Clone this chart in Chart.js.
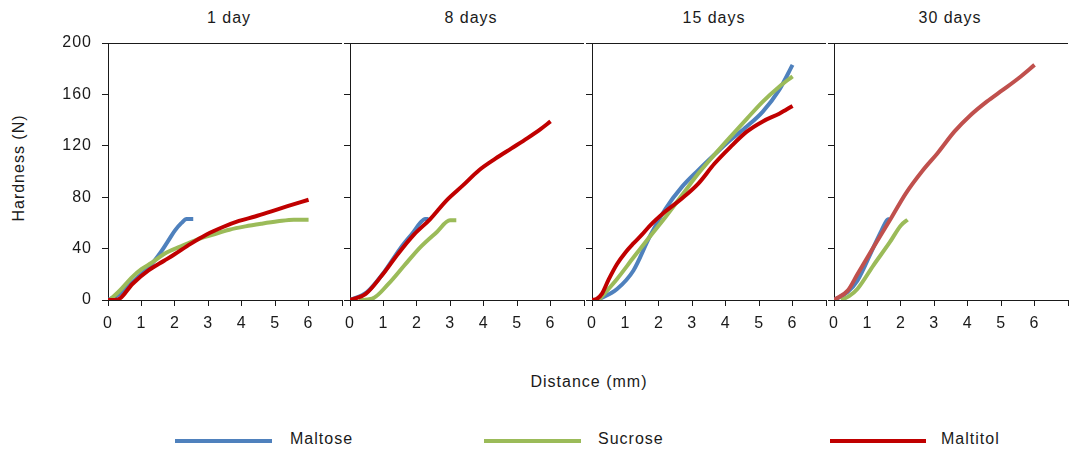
<!DOCTYPE html>
<html>
<head>
<meta charset="utf-8">
<title>Hardness vs distance</title>
<script src="https://cdn.jsdelivr.net/npm/chart.js@4.4.1/dist/chart.umd.min.js"></script>
<style>
  html, body { margin: 0; padding: 0; background: #fff; overflow: hidden; }
  #wrap {
    position: relative; width: 1070px; height: 452px; overflow: hidden;
    font-family: "Liberation Sans", Arial, sans-serif; font-size: 16px;
    color: #1a1a1a; letter-spacing: 1px;
  }
  #wrap canvas { position: absolute; top: 0; }
  .txt { position: absolute; line-height: 20px; white-space: nowrap; }
  .key { position: absolute; height: 4px; }
</style>
</head>
<body>
<div id="wrap">
  <div class="txt" style="left:19px; top:168px; transform:translate(-50%,-50%) rotate(-90deg);">Hardness (N)</div>
  <div class="txt" style="left:589px; top:372px; transform:translateX(-50%);">Distance (mm)</div>
  <div id="legend"></div>
</div>
<script>
// panel titles, series and ticks
const panelTitles = ["1 day", "8 days", "15 days", "30 days"];
const seriesNames = ["Maltose", "Sucrose", "Maltitol"];
const yTicks = [0, 40, 80, 120, 160, 200];
const xTicks = [0, 1, 2, 3, 4, 5, 6];

// [distance mm, hardness N]
const maltose1 = [[0,0],[0.3,4],[0.6,11],[0.9,18],[1.2,25],[1.4,31],[1.6,38],[1.8,46],[2.0,54],[2.2,60],[2.35,63],[2.55,63]];
const sucrose1 = [[0.05,0],[0.34,7],[0.73,18],[1.0,24],[1.31,29],[1.69,36],[2.18,41.7],[2.66,47],[3.15,51],[3.63,54.7],[4.11,57.3],[4.6,59.4],[5.08,61.2],[5.56,62.5],[6.0,62.5]];
const maltitol1 = [[0,0],[0.3,0.5],[0.73,12.5],[1.21,23],[1.69,30.7],[1.98,35.4],[2.47,43.7],[2.95,51],[3.44,56.8],[3.92,61.5],[4.4,65],[4.89,69],[5.37,73],[6,78]];

const maltose8 = [[0,0],[0.5,6],[1.0,21],[1.5,40],[1.9,53],[2.1,60],[2.25,63],[2.35,63]];
const sucrose8 = [[0.27,0],[0.66,1],[1.15,12.5],[1.63,27],[2.1,41],[2.6,53],[2.99,62],[3.18,62]];
const maltitol8 = [[0,0],[0.47,4.7],[0.95,19],[1.44,36],[1.92,51],[2.4,63],[2.89,77.6],[3.37,89],[3.86,101],[4.35,110],[4.83,118],[5.31,126],[5.7,133],[6,139]];

const maltose15 = [[0.17,0],[0.75,8.6],[1.24,23],[1.72,49],[2.2,71],[2.69,88],[3.18,101],[3.66,113],[4.14,124.5],[4.63,135],[5.11,146.6],[5.6,163.5],[6,183]];
const sucrose15 = [[0.2,0],[0.75,16.4],[1.24,33],[1.72,49],[2.2,64.6],[2.69,81.5],[3.18,98.4],[3.66,113],[4.14,127],[4.63,141],[5.11,154.4],[5.6,166],[6,174]];
const maltitol15 = [[0,0],[0.15,1],[0.3,5],[0.5,16],[0.75,28],[1.0,37],[1.24,44],[1.5,51],[1.72,57.5],[2.2,69],[2.69,79],[3.18,90.6],[3.66,106],[4.14,119],[4.63,131],[5.11,139],[5.6,145],[6,151]];

const maltose30 = [[0,0],[0.4,6],[0.7,15],[1.18,41],[1.42,54],[1.6,62.5],[1.66,63]];
const sucrose30 = [[0.21,0],[0.45,3],[0.7,8.6],[1.18,27],[1.67,45],[2.0,58],[2.2,62.5]];
const maltitol30 = [[0,0],[0.41,7.3],[0.7,20],[1.18,41],[1.67,62],[2.15,83],[2.63,100],[3.12,115],[3.6,131],[4.09,144],[4.57,154.4],[5.05,163.5],[5.54,173],[6,183]];

const panels = [
  [maltose1, sucrose1, maltitol1],
  [maltose8, sucrose8, maltitol8],
  [maltose15, sucrose15, maltitol15],
  [maltose30, sucrose30, maltitol30]
];

const colors = ["#4F81BD", "#9BBB59", "#C00000"];
const lateRed = "#C0504D"; // 30 days maltitol is lighter

const FONT = { family: "'Liberation Sans', Arial, sans-serif", size: 16 };
const AXIS_W = 60, PANEL_W = 242, H = 340;
const panelLeft = [108, 350, 592, 834];
const titleCenter = [229, 471, 714, 950];

const wrap = document.getElementById("wrap");

// top frame line + letter spacing for tick text
const framePlugin = {
  id: "frame",
  beforeDraw(chart) { chart.ctx.letterSpacing = "1px"; },
  afterDraw(chart) {
    const { ctx, chartArea } = chart;
    ctx.save();
    ctx.strokeStyle = "#1a1a1a";
    ctx.lineWidth = 1;
    ctx.beginPath();
    ctx.moveTo(chartArea.left, chartArea.top + 0.5);
    ctx.lineTo(chartArea.right, chartArea.top + 0.5);
    ctx.stroke();
    ctx.restore();
  }
};

panels.forEach((series, p) => {
  const t = document.createElement("div");
  t.className = "txt";
  t.style.left = titleCenter[p] + "px";
  t.style.top = "8px";
  t.style.transform = "translateX(-50%)";
  t.textContent = panelTitles[p];
  wrap.appendChild(t);

  const cv = document.createElement("canvas");
  cv.width = AXIS_W + PANEL_W;
  cv.height = H;
  cv.style.left = (panelLeft[p] - AXIS_W) + "px";
  wrap.appendChild(cv);

  const datasets = series.map((pts, s) => ({
    label: seriesNames[s],
    data: pts.map(([x, y]) => ({ x, y })),
    borderColor: (p === 3 && s === 2) ? lateRed : colors[s],
    borderWidth: 4,
    pointRadius: 0,
    fill: false,
    cubicInterpolationMode: "monotone",
    order: 3 - s
  }));

  new Chart(cv, {
    type: "line",
    data: { datasets },
    options: {
      responsive: false,
      animation: false,
      events: [],
      layout: { padding: { top: 43, left: 0, right: 0, bottom: 0 } },
      plugins: { legend: { display: false }, tooltip: { enabled: false } },
      scales: {
        x: {
          type: "linear", min: 0, max: 7,
          afterBuildTicks: (scale) => { scale.ticks = xTicks.concat([7]).map(v => ({ value: v })); },
          afterFit: (scale) => { scale.height = 40; },
          border: { display: true, color: "#1a1a1a", width: 1 },
          grid: { drawOnChartArea: false, drawTicks: true, tickLength: 6, color: "#1a1a1a" },
          ticks: {
            autoSkip: false, maxRotation: 0, padding: 8, color: "#1a1a1a", font: FONT,
            callback: (v) => (xTicks.includes(v) ? String(v) : "")
          }
        },
        y: {
          min: 0, max: 200,
          afterBuildTicks: (scale) => { scale.ticks = yTicks.map(v => ({ value: v })); },
          afterFit: (scale) => { scale.width = AXIS_W; },
          border: { display: true, color: "#1a1a1a", width: 1 },
          grid: { drawOnChartArea: false, drawTicks: true, tickLength: 6, color: "#1a1a1a" },
          ticks: {
            padding: 10, color: "#1a1a1a", font: FONT,
            callback: (v) => (p === 0 ? String(v) : "")
          }
        }
      }
    },
    plugins: [framePlugin]
  });
});

// legend below the panels
const legend = document.getElementById("legend");
const keyLine = [[175, 97], [484, 97], [830, 96]];
const keyText = [290, 598, 941];
seriesNames.forEach((name, s) => {
  const line = document.createElement("div");
  line.className = "key";
  line.style.left = keyLine[s][0] + "px";
  line.style.width = keyLine[s][1] + "px";
  line.style.top = "439px";
  line.style.background = colors[s];
  legend.appendChild(line);
  const label = document.createElement("div");
  label.className = "txt";
  label.style.left = keyText[s] + "px";
  label.style.top = "429px";
  label.textContent = name;
  legend.appendChild(label);
});
</script>
</body>
</html>
